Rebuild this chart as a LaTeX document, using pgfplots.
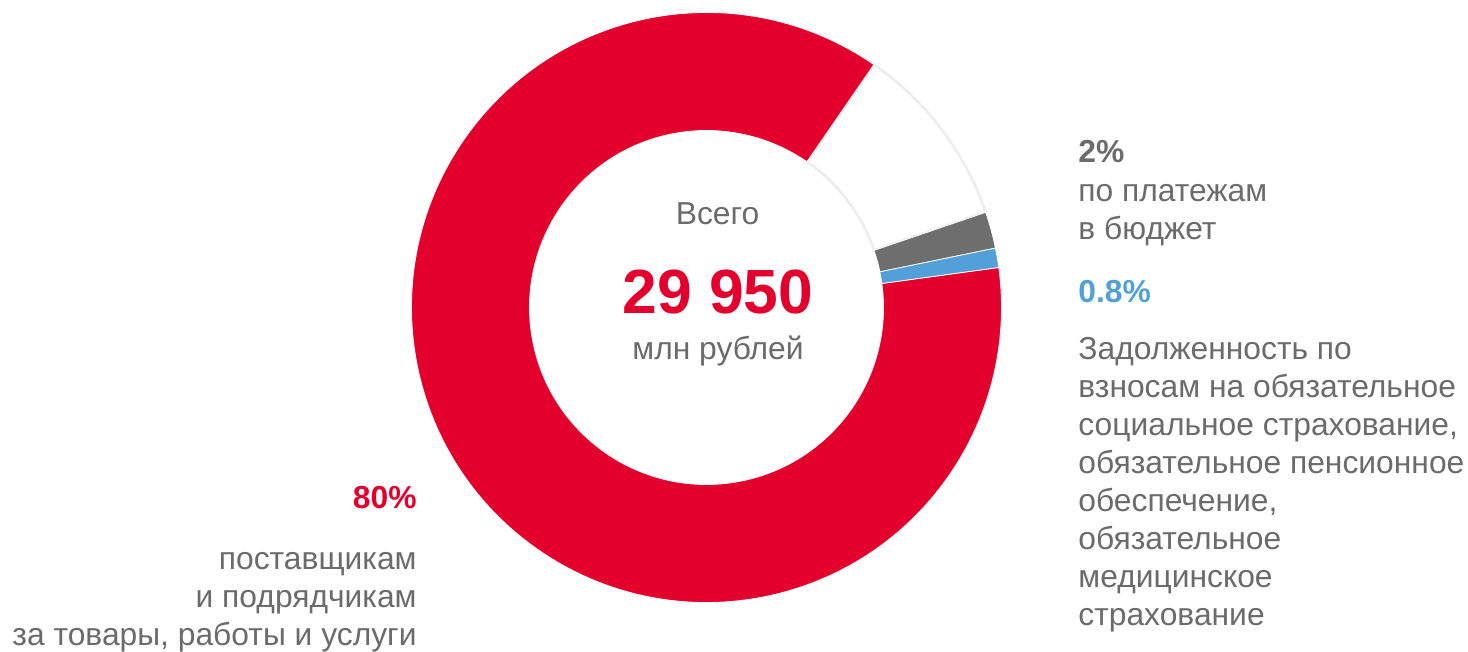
\documentclass[border=0pt]{standalone}
\usepackage{pgfplots}
\pgfplotsset{compat=1.18}
\usepackage{pgfplotstable}
\usepackage{fontspec}
\setmainfont{Liberation Sans}
\definecolor{cred}{HTML}{E3002D}
\definecolor{cgray}{HTML}{6E6E6E}
\definecolor{cblue}{HTML}{52A0DA}
\definecolor{ctext}{HTML}{6B6B6B}
\definecolor{cring}{HTML}{EEEEEE}
\newcommand\fs{\fontsize{15.9pt}{19pt}\selectfont}
\tikzset{lbl/.style={inner sep=0pt, font=\fs, text=ctext}}
\newcommand\seg[3]{%
  \edef\A{\csname sa#1\endcsname}%
  \edef\B{\csname sb#1\endcsname}%
  \edef\temp{\noexpand\path[fill=#2,#3] (axis cs:{\cx+\Ro*cos(\A)},{\cy+\Ro*sin(\A)}) arc[start angle=\A,end angle=\B,radius=\Ro*0.5pt] -- (axis cs:{\cx+\Ri*cos(\B)},{\cy+\Ri*sin(\B)}) arc[start angle=\B,end angle=\A,radius=\Ri*0.5pt] -- cycle;}%
  \temp}
% shares of the ring (percent of full circle), counter-clockwise from 7.8 deg
\pgfplotstableread{
share
1.06
2.00
10.17
86.77
}\donutdata
\begin{document}
\begin{tikzpicture}
\def\cx{706.5}\def\cy{344.5}\def\Ro{295}\def\Ri{177}
\xdef\cum{7.8}
\pgfplotsforeachungrouped \i in {0,...,3}{%
  \pgfplotstablegetelem{\i}{share}\of\donutdata
  \pgfmathsetmacro\b{\cum+3.6*\pgfplotsretval}%
  \expandafter\xdef\csname sa\i\endcsname{\cum}%
  \expandafter\xdef\csname sb\i\endcsname{\b}%
  \xdef\cum{\b}%
}
\begin{axis}[hide axis, x=0.5pt, y=0.5pt, xmin=0, xmax=1468, ymin=0, ymax=652, clip=false]
\coordinate (bbA) at (axis cs:0,0);
\coordinate (bbB) at (axis cs:1468,652);
\seg{2}{white}{draw=cring, line width=1.4pt}
\seg{3}{cred}{draw=white, line width=0.4pt}
\seg{1}{cgray}{draw=white, line width=0.4pt}
\seg{0}{cblue}{draw=white, line width=0.4pt}
% centre
\node[lbl, anchor=base] at (axis cs:717.5,427.7) {Всего};
\node[lbl, anchor=base, text=cred, font=\bfseries\fontsize{31.2pt}{36pt}\selectfont] at (axis cs:718,338.7) {29 950};
\node[lbl, anchor=base] at (axis cs:718,292) {млн рублей};
% right
\node[lbl, anchor=base west, font=\bfseries\fs] at (axis cs:1078,489.7) {2\%};
\node[lbl, anchor=base west] at (axis cs:1078,450.3) {по платежам};
\node[lbl, anchor=base west] at (axis cs:1078,412.2) {в бюджет};
\node[lbl, anchor=base west, text=cblue, font=\bfseries\fs] at (axis cs:1078,349) {0.8\%};
\node[lbl, anchor=base west] at (axis cs:1078,292.7) {Задолженность по};
\node[lbl, anchor=base west] at (axis cs:1078,254.6) {взносам на обязательное};
\node[lbl, anchor=base west] at (axis cs:1078,216.5) {социальное страхование,};
\node[lbl, anchor=base west] at (axis cs:1078,178.4) {обязательное пенсионное};
\node[lbl, anchor=base west] at (axis cs:1078,140.3) {обеспечение,};
\node[lbl, anchor=base west] at (axis cs:1078,102.2) {обязательное};
\node[lbl, anchor=base west] at (axis cs:1078,64.1) {медицинское};
\node[lbl, anchor=base west] at (axis cs:1078,26) {страхование};
% left
\node[lbl, anchor=base east, text=cred, font=\bfseries\fs] at (axis cs:417,143) {80\%};
\node[lbl, anchor=base east] at (axis cs:417,82) {поставщикам};
\node[lbl, anchor=base east] at (axis cs:417,44) {и подрядчикам};
\node[lbl, anchor=base east] at (axis cs:417,6.5) {за товары, работы и услуги};
\end{axis}
\pgfresetboundingbox
\useasboundingbox (bbA) rectangle (bbB);
\end{tikzpicture}
\end{document}
